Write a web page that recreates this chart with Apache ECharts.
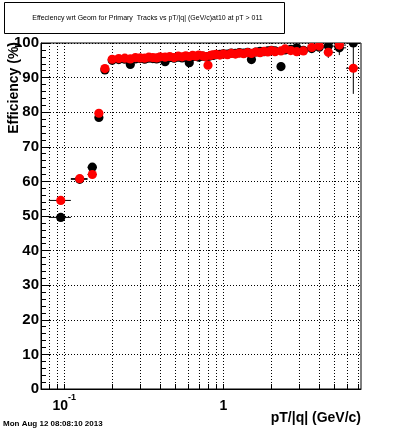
<!DOCTYPE html>
<html>
<head>
<meta charset="utf-8">
<script src="https://cdn.jsdelivr.net/npm/echarts@6/dist/echarts.min.js"></script>
<style>
html,body{margin:0;padding:0;background:#fff;}
#c{width:400px;height:433px;}
</style>
</head>
<body>
<div id="c"></div>
<script>
// ---- data ----
const xCenters = [0.095, 0.125, 0.15, 0.165, 0.18,
  0.20, 0.22, 0.24, 0.26, 0.28, 0.30, 0.32, 0.34, 0.36, 0.38, 0.40,
  0.43, 0.46, 0.49, 0.52, 0.55, 0.58, 0.61, 0.64, 0.67, 0.70,
  0.74, 0.77, 0.80, 0.83, 0.86, 0.90, 0.95,
  1.00, 1.06, 1.12, 1.19, 1.26, 1.34, 1.42, 1.50,
  1.60, 1.70, 1.80, 1.90, 2.00,
  2.11, 2.30, 2.44, 2.65, 2.89, 3.18, 3.59, 4.00, 4.56, 5.35, 6.55];
const binEdges = [0.08, 0.11, 0.14, 0.16, 0.17, 0.19,
  0.21, 0.23, 0.25, 0.27, 0.29, 0.31, 0.33, 0.35, 0.37, 0.39, 0.415,
  0.445, 0.475, 0.505, 0.535, 0.565, 0.595, 0.625, 0.655, 0.685, 0.72,
  0.755, 0.785, 0.815, 0.845, 0.88, 0.925, 0.975,
  1.03, 1.09, 1.155, 1.225, 1.30, 1.38, 1.46, 1.55,
  1.65, 1.75, 1.85, 1.95, 2.055,
  2.2, 2.37, 2.55, 2.77, 3.03, 3.38, 3.8, 4.28, 4.95, 5.9, 7.2];
const effBlack = [49.6, 60.6, 64.1, 78.5, 92.2,
  95.0, 95.2, 95.3, 93.8, 95.4, 95.5, 95.3, 95.6, 95.5, 95.4, 95.7,
  94.6, 95.8, 95.6, 95.9, 95.7, 95.9, 94.3, 96.0, 96.1, 95.9,
  96.2, 96.0, 96.1, 96.3, 96.4, 96.6, 96.7,
  96.9, 96.8, 97.1, 97.0, 97.2, 97.1, 97.3, 95.2,
  97.4, 97.6, 97.5, 97.7, 97.9,
  97.7, 93.2, 98.0, 98.2, 98.6, 97.9, 98.4, 98.8, 99.1, 98.6, 100.0];
const effRed = [54.5, 60.8, 62.0, 79.7, 92.6,
  95.3, 95.5, 95.6, 95.4, 95.8, 95.7, 95.6, 95.9, 95.8, 95.7, 96.0,
  95.9, 96.1, 95.8, 96.2, 96.0, 96.3, 96.1, 96.4, 96.2, 96.5,
  96.3, 96.1, 93.6, 96.4, 96.6, 96.7, 96.5,
  96.8, 96.6, 97.0, 96.8, 97.1, 96.9, 97.2, 97.0,
  97.4, 97.2, 97.6, 97.4, 97.8,
  97.5, 97.7, 98.3, 97.8, 97.5, 97.7, 98.7, 99.1, 97.3, 99.4, 92.7];
const errBlack = [1.0, 0.9, 0.8, 0.7, 0.5,
  0.4, 0.4, 0.4, 0.5, 0.3, 0.3, 0.3, 0.3, 0.3, 0.3, 0.3,
  0.3, 0.3, 0.3, 0.3, 0.3, 0.3, 0.4, 0.3, 0.3, 0.3,
  0.3, 0.3, 0.3, 0.3, 0.3, 0.3, 0.3,
  0.3, 0.3, 0.3, 0.3, 0.4, 0.4, 0.4, 0.6,
  0.4, 0.4, 0.5, 0.5, 0.5,
  0.5, 1.2, 0.6, 0.7, 0.9, 0.9, 0.8, 0.8, 1.0, 2.1, 0.5];
const errRed = [1.0, 0.9, 0.8, 0.7, 0.5,
  0.4, 0.4, 0.4, 0.4, 0.3, 0.3, 0.3, 0.3, 0.3, 0.3, 0.3,
  0.3, 0.3, 0.3, 0.3, 0.3, 0.3, 0.3, 0.3, 0.3, 0.3,
  0.3, 0.3, 0.5, 0.3, 0.3, 0.3, 0.3,
  0.3, 0.3, 0.3, 0.3, 0.4, 0.4, 0.4, 0.4,
  0.4, 0.4, 0.5, 0.5, 0.5,
  0.5, 0.6, 0.6, 0.7, 0.8, 0.9, 0.9, 1.0, 1.6, 1.2, 7.4];
const xGridTicks = [0.08, 0.09, 0.1, 0.2, 0.3, 0.4, 0.5, 0.6, 0.7, 0.8, 0.9, 1, 2, 3, 4, 5, 6, 7];
const xLabelTicks = [0.1, 1];
const xRange = [0.0714, 7.32];
const yRange = [0, 100];
const yStep = 10;
const titleText = 'Effeciency wrt Geom for Primary  Tracks vs pT/|q| (GeV/c)at10 at pT > 011';
const xTitle = 'pT/|q| (GeV/c)';
const yTitle = 'Efficiency (%)';
const dateText = 'Mon Aug 12 08:08:10 2013';

// ---- chart ----
const FONT = 'Liberation Sans, Arial, Helvetica, sans-serif';
function buildData(eff, err) {
  return xCenters.map((x, i) => [x, eff[i], binEdges[i], binEdges[i + 1], err[i]]);
}
function renderPoint(color) {
  return function (params, api) {
    const x = api.value(0), y = api.value(1);
    const xl = api.value(2), xh = api.value(3), e = api.value(4);
    const c = api.coord([x, y]);
    const l = api.coord([xl, y]);
    const h = api.coord([xh, y]);
    const t = api.coord([x, Math.min(y + e, 100)]);
    const b = api.coord([x, y - e]);
    return {
      type: 'group',
      children: [
        { type: 'line', shape: { x1: l[0], y1: l[1], x2: h[0], y2: h[1] }, style: { stroke: '#000', lineWidth: 1 } },
        { type: 'line', shape: { x1: t[0], y1: t[1], x2: b[0], y2: b[1] }, style: { stroke: '#000', lineWidth: 1 } },
        { type: 'circle', shape: { cx: c[0], cy: c[1], r: 4.6 }, style: { fill: color } }
      ]
    };
  };
}
const chart = echarts.init(document.getElementById('c'), null, { renderer: 'canvas' });
chart.setOption({
  animation: false,
  backgroundColor: '#fff',
  grid: { left: 41, right: 39, top: 43, bottom: 44, containLabel: false, outerBoundsMode: 'none', show: true, borderColor: '#000', borderWidth: 1, backgroundColor: 'transparent' },
  xAxis: {
    type: 'log', logBase: 10, min: xRange[0], max: xRange[1],
    name: xTitle, nameLocation: 'end', nameGap: 0,
    nameTextStyle: { fontFamily: FONT, fontWeight: 'bold', fontSize: 14, color: '#000', align: 'right', verticalAlign: 'top', padding: [22, 0, 0, 0] },
    axisLine: { show: true, lineStyle: { color: '#000', width: 1 } },
    axisTick: { show: true, inside: true, length: 5, customValues: xGridTicks, lineStyle: { color: '#000' } },
    splitLine: { show: true, lineStyle: { color: '#000', type: [1, 2], width: 1 } },
    axisLabel: {
      customValues: xLabelTicks, margin: 4, color: '#000',
      formatter: function (v) {
        if (Math.abs(v - 0.1) < 1e-6) return '{b|10}{s|-1}';
        if (Math.abs(v - 1) < 1e-6) return '{b|1}';
        return '';
      },
      rich: {
        b: { fontFamily: FONT, fontWeight: 'bold', fontSize: 14, color: '#000', lineHeight: 20, verticalAlign: 'bottom' },
        s: { fontFamily: FONT, fontWeight: 'bold', fontSize: 9, color: '#000', verticalAlign: 'top' }
      }
    }
  },
  yAxis: {
    type: 'value', min: yRange[0], max: yRange[1], interval: yStep,
    axisLine: { show: true, lineStyle: { color: '#000', width: 1 } },
    axisTick: { show: true, inside: true, length: 9, lineStyle: { color: '#000' } },
    minorTick: { show: true, splitNumber: 5, length: 5, lineStyle: { color: '#000' } },
    splitLine: { show: true, lineStyle: { color: '#000', type: [1, 2], width: 1 } },
    axisLabel: { fontFamily: FONT, fontWeight: 'bold', fontSize: 15, color: '#000', margin: 2 }
  },
  graphic: [
    { type: 'rect', left: 4, top: 2, shape: { width: 280, height: 31 }, style: { fill: '#fff', stroke: '#000', lineWidth: 1 }, z: 10 },
    { type: 'text', x: 147.5, y: 18, style: { text: titleText, font: '7px ' + FONT, fill: '#000', align: 'center', verticalAlign: 'middle' }, z: 11 },
    { type: 'text', x: 14, y: 42, rotation: Math.PI / 2, style: { text: yTitle, font: 'bold 14px ' + FONT, fill: '#000', align: 'right', verticalAlign: 'middle' }, z: 12 },
    { type: 'text', x: 3, y: 423.5, style: { text: dateText, font: 'bold 8px ' + FONT, fill: '#000', align: 'left', verticalAlign: 'middle' }, z: 11 }
  ],
  series: [
    { type: 'custom', name: 'black', clip: true, data: buildData(effBlack, errBlack), renderItem: renderPoint('#000'), z: 3 },
    { type: 'custom', name: 'red', clip: true, data: buildData(effRed, errRed), renderItem: renderPoint('#ff0000'), z: 4 }
  ]
});
</script>
</body>
</html>
